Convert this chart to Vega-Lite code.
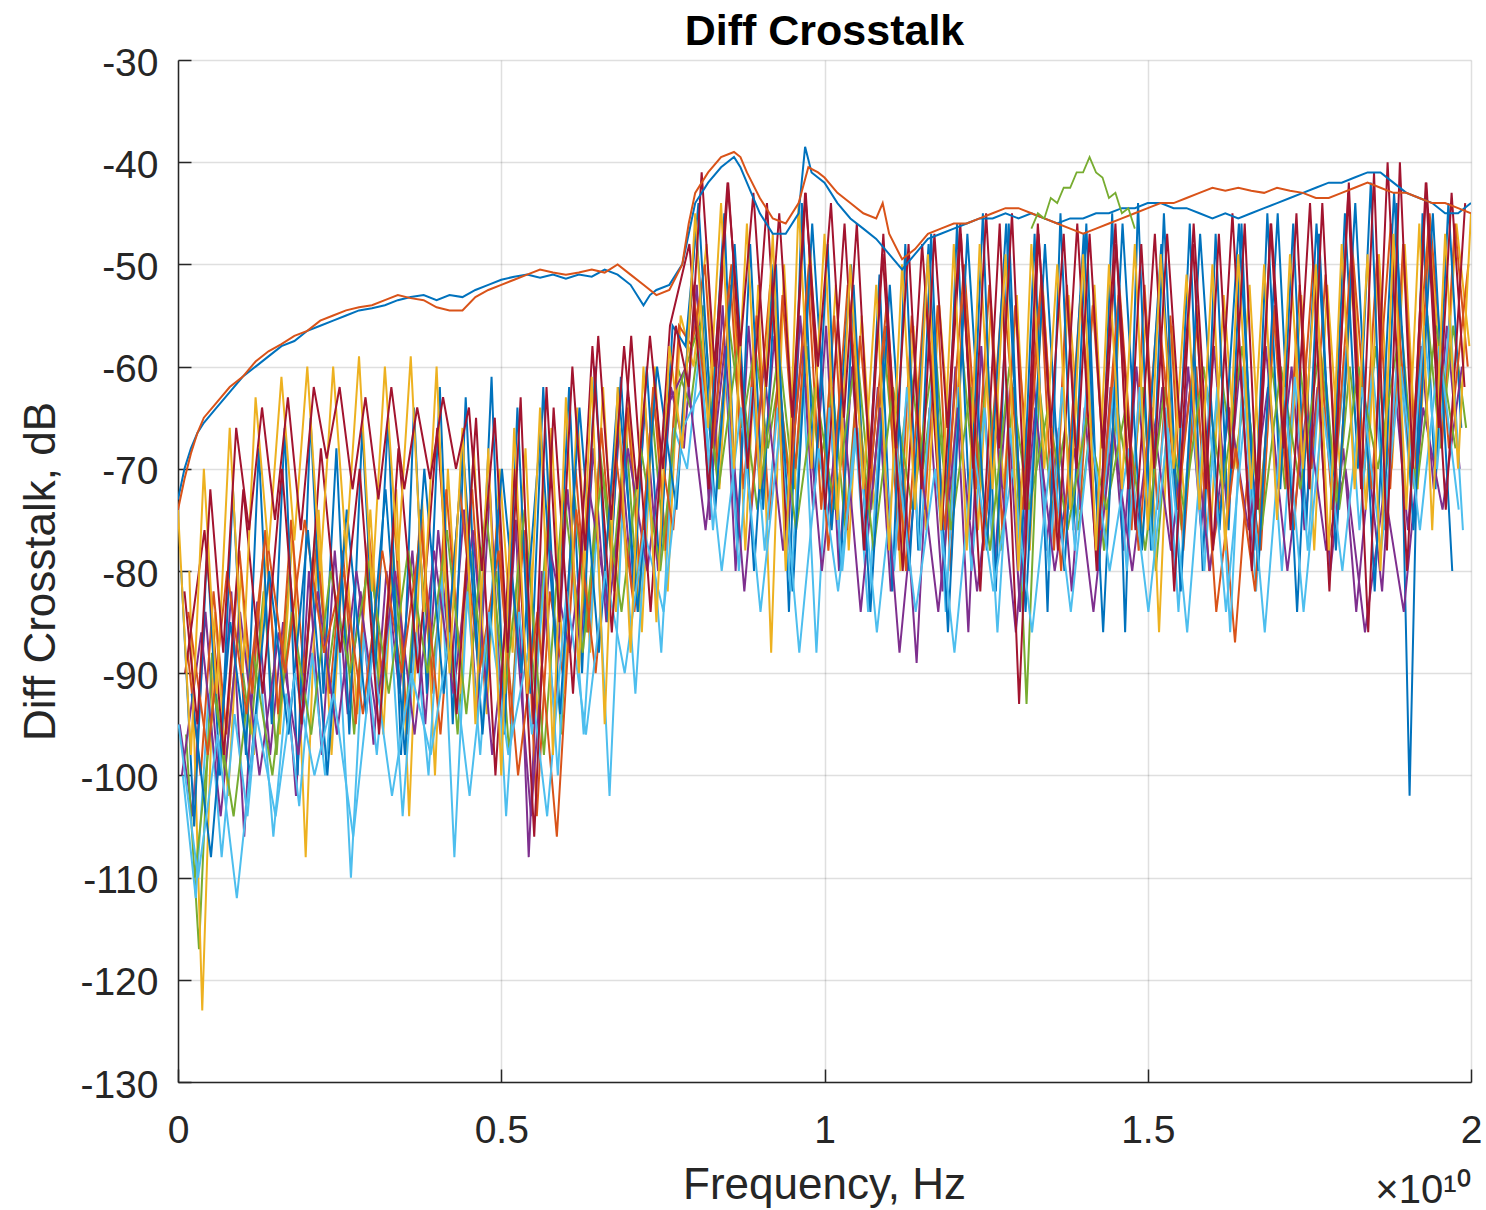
{
"$schema": "https://vega.github.io/schema/vega-lite/v6.json",
"autosize": {"type": "none"},
"padding": {"left": 178, "top": 60, "right": 15, "bottom": 128},
"width": 1293,
"height": 1022,
"background": "white",
"config": {"font": "Liberation Sans", "view": {"stroke": null}},
"title": {"text": "Diff Crosstalk", "fontSize": 43, "fontWeight": "bold", "color": "#000000", "anchor": "middle", "frame": "group", "baseline": "alphabetic", "offset": 17, "dy": 61},
"datasets": {
"noise": [
{"s":"s01","f":0.0025,"d":-95},{"s":"s01","f":0.0225,"d":-104},{"s":"s01","f":0.0425,"d":-84},{"s":"s01","f":0.0625,"d":-100},{"s":"s01","f":0.0825,"d":-82},{"s":"s01","f":0.1025,"d":-106},{"s":"s01","f":0.1225,"d":-83},{"s":"s01","f":0.1425,"d":-98},{"s":"s01","f":0.1625,"d":-85},{"s":"s01","f":0.1825,"d":-102},
{"s":"s01","f":0.2025,"d":-80},{"s":"s01","f":0.2225,"d":-98},{"s":"s01","f":0.2425,"d":-78},{"s":"s01","f":0.2625,"d":-94},{"s":"s01","f":0.2825,"d":-82},{"s":"s01","f":0.3025,"d":-97},{"s":"s01","f":0.3225,"d":-80},{"s":"s01","f":0.3425,"d":-92},{"s":"s01","f":0.3625,"d":-78},{"s":"s01","f":0.3825,"d":-95},
{"s":"s01","f":0.4025,"d":-76},{"s":"s01","f":0.4225,"d":-90},{"s":"s01","f":0.4425,"d":-74},{"s":"s01","f":0.4625,"d":-94},{"s":"s01","f":0.4825,"d":-72},{"s":"s01","f":0.5025,"d":-96},{"s":"s01","f":0.5225,"d":-75},{"s":"s01","f":0.5425,"d":-108},{"s":"s01","f":0.5625,"d":-80},{"s":"s01","f":0.5825,"d":-94},
{"s":"s01","f":0.6025,"d":-72},{"s":"s01","f":0.6225,"d":-88},{"s":"s01","f":0.6425,"d":-68},{"s":"s01","f":0.6625,"d":-85},{"s":"s01","f":0.6825,"d":-66},{"s":"s01","f":0.7025,"d":-82},{"s":"s01","f":0.7225,"d":-64},{"s":"s01","f":0.7425,"d":-80},{"s":"s01","f":0.7625,"d":-62},{"s":"s01","f":0.7825,"d":-68},
{"s":"s01","f":0.8025,"d":-52},{"s":"s01","f":0.8225,"d":-75},{"s":"s01","f":0.8425,"d":-54},{"s":"s01","f":0.8625,"d":-80},{"s":"s01","f":0.8825,"d":-56},{"s":"s01","f":0.9025,"d":-73},{"s":"s01","f":0.9225,"d":-57},{"s":"s01","f":0.9425,"d":-78},{"s":"s01","f":0.9625,"d":-55},{"s":"s01","f":0.9825,"d":-74},
{"s":"s01","f":1.0025,"d":-56},{"s":"s01","f":1.0225,"d":-80},{"s":"s01","f":1.0425,"d":-60},{"s":"s01","f":1.0625,"d":-78},{"s":"s01","f":1.0825,"d":-62},{"s":"s01","f":1.1025,"d":-82},{"s":"s01","f":1.1225,"d":-70},{"s":"s01","f":1.1425,"d":-89},{"s":"s01","f":1.1625,"d":-64},{"s":"s01","f":1.1825,"d":-82},
{"s":"s01","f":1.2025,"d":-60},{"s":"s01","f":1.2225,"d":-86},{"s":"s01","f":1.2425,"d":-58},{"s":"s01","f":1.2625,"d":-80},{"s":"s01","f":1.2825,"d":-62},{"s":"s01","f":1.3025,"d":-84},{"s":"s01","f":1.3225,"d":-60},{"s":"s01","f":1.3425,"d":-78},{"s":"s01","f":1.3625,"d":-66},{"s":"s01","f":1.3825,"d":-82},
{"s":"s01","f":1.4025,"d":-64},{"s":"s01","f":1.4225,"d":-80},{"s":"s01","f":1.4425,"d":-62},{"s":"s01","f":1.4625,"d":-78},{"s":"s01","f":1.4825,"d":-60},{"s":"s01","f":1.5025,"d":-76},{"s":"s01","f":1.5225,"d":-62},{"s":"s01","f":1.5425,"d":-80},{"s":"s01","f":1.5625,"d":-60},{"s":"s01","f":1.5825,"d":-76},
{"s":"s01","f":1.6025,"d":-58},{"s":"s01","f":1.6225,"d":-74},{"s":"s01","f":1.6425,"d":-60},{"s":"s01","f":1.6625,"d":-78},{"s":"s01","f":1.6825,"d":-58},{"s":"s01","f":1.7025,"d":-72},{"s":"s01","f":1.7225,"d":-60},{"s":"s01","f":1.7425,"d":-76},{"s":"s01","f":1.7625,"d":-62},{"s":"s01","f":1.7825,"d":-80},
{"s":"s01","f":1.8025,"d":-68},{"s":"s01","f":1.8225,"d":-84},{"s":"s01","f":1.8425,"d":-70},{"s":"s01","f":1.8625,"d":-82},{"s":"s01","f":1.8825,"d":-62},{"s":"s01","f":1.9025,"d":-76},{"s":"s01","f":1.9225,"d":-58},{"s":"s01","f":1.9425,"d":-72},{"s":"s01","f":1.9625,"d":-56},{"s":"s01","f":1.9825,"d":-70},

{"s":"s02","f":0.0125,"d":-96},{"s":"s02","f":0.0325,"d":-117},{"s":"s02","f":0.0525,"d":-88},{"s":"s02","f":0.0725,"d":-100},{"s":"s02","f":0.0925,"d":-86},{"s":"s02","f":0.1125,"d":-96},{"s":"s02","f":0.1325,"d":-82},{"s":"s02","f":0.1525,"d":-98},{"s":"s02","f":0.1725,"d":-80},{"s":"s02","f":0.1925,"d":-94},
{"s":"s02","f":0.2125,"d":-76},{"s":"s02","f":0.2325,"d":-90},{"s":"s02","f":0.2525,"d":-80},{"s":"s02","f":0.2725,"d":-96},{"s":"s02","f":0.2925,"d":-79},{"s":"s02","f":0.3125,"d":-92},{"s":"s02","f":0.3325,"d":-78},{"s":"s02","f":0.3525,"d":-94},{"s":"s02","f":0.3725,"d":-77},{"s":"s02","f":0.3925,"d":-90},
{"s":"s02","f":0.4125,"d":-80},{"s":"s02","f":0.4325,"d":-96},{"s":"s02","f":0.4525,"d":-78},{"s":"s02","f":0.4725,"d":-90},{"s":"s02","f":0.4925,"d":-80},{"s":"s02","f":0.5125,"d":-98},{"s":"s02","f":0.5325,"d":-76},{"s":"s02","f":0.5525,"d":-92},{"s":"s02","f":0.5725,"d":-74},{"s":"s02","f":0.5925,"d":-96},
{"s":"s02","f":0.6125,"d":-72},{"s":"s02","f":0.6325,"d":-86},{"s":"s02","f":0.6525,"d":-68},{"s":"s02","f":0.6725,"d":-80},{"s":"s02","f":0.6925,"d":-66},{"s":"s02","f":0.7125,"d":-84},{"s":"s02","f":0.7325,"d":-64},{"s":"s02","f":0.7525,"d":-78},{"s":"s02","f":0.7725,"d":-60},{"s":"s02","f":0.7925,"d":-64},
{"s":"s02","f":0.8125,"d":-54},{"s":"s02","f":0.8325,"d":-70},{"s":"s02","f":0.8525,"d":-56},{"s":"s02","f":0.8725,"d":-66},{"s":"s02","f":0.8925,"d":-58},{"s":"s02","f":0.9125,"d":-68},{"s":"s02","f":0.9325,"d":-60},{"s":"s02","f":0.9525,"d":-72},{"s":"s02","f":0.9725,"d":-58},{"s":"s02","f":0.9925,"d":-70},
{"s":"s02","f":1.0125,"d":-62},{"s":"s02","f":1.0325,"d":-76},{"s":"s02","f":1.0525,"d":-60},{"s":"s02","f":1.0725,"d":-74},{"s":"s02","f":1.0925,"d":-58},{"s":"s02","f":1.1125,"d":-72},{"s":"s02","f":1.1325,"d":-60},{"s":"s02","f":1.1525,"d":-70},{"s":"s02","f":1.1725,"d":-59},{"s":"s02","f":1.1925,"d":-76},
{"s":"s02","f":1.2125,"d":-58},{"s":"s02","f":1.2325,"d":-72},{"s":"s02","f":1.2525,"d":-60},{"s":"s02","f":1.2725,"d":-78},{"s":"s02","f":1.2925,"d":-62},{"s":"s02","f":1.3125,"d":-93},{"s":"s02","f":1.3325,"d":-62},{"s":"s02","f":1.3525,"d":-74},{"s":"s02","f":1.3725,"d":-66},{"s":"s02","f":1.3925,"d":-76},
{"s":"s02","f":1.4125,"d":-65},{"s":"s02","f":1.4325,"d":-78},{"s":"s02","f":1.4525,"d":-64},{"s":"s02","f":1.4725,"d":-72},{"s":"s02","f":1.4925,"d":-62},{"s":"s02","f":1.5125,"d":-80},{"s":"s02","f":1.5325,"d":-64},{"s":"s02","f":1.5525,"d":-76},{"s":"s02","f":1.5725,"d":-62},{"s":"s02","f":1.5925,"d":-72},
{"s":"s02","f":1.6125,"d":-60},{"s":"s02","f":1.6325,"d":-70},{"s":"s02","f":1.6525,"d":-62},{"s":"s02","f":1.6725,"d":-74},{"s":"s02","f":1.6925,"d":-60},{"s":"s02","f":1.7125,"d":-72},{"s":"s02","f":1.7325,"d":-58},{"s":"s02","f":1.7525,"d":-70},{"s":"s02","f":1.7725,"d":-59},{"s":"s02","f":1.7925,"d":-74},
{"s":"s02","f":1.8125,"d":-60},{"s":"s02","f":1.8325,"d":-72},{"s":"s02","f":1.8525,"d":-58},{"s":"s02","f":1.8725,"d":-70},{"s":"s02","f":1.8925,"d":-56},{"s":"s02","f":1.9125,"d":-72},{"s":"s02","f":1.9325,"d":-55},{"s":"s02","f":1.9525,"d":-68},{"s":"s02","f":1.9725,"d":-56},{"s":"s02","f":1.9925,"d":-66},

{"s":"s03","f":0.0175,"d":-80},{"s":"s03","f":0.0375,"d":-123},{"s":"s03","f":0.0575,"d":-84},{"s":"s03","f":0.0775,"d":-102},{"s":"s03","f":0.0975,"d":-80},{"s":"s03","f":0.1175,"d":-98},{"s":"s03","f":0.1375,"d":-78},{"s":"s03","f":0.1575,"d":-96},{"s":"s03","f":0.1775,"d":-76},{"s":"s03","f":0.1975,"d":-108},
{"s":"s03","f":0.2175,"d":-74},{"s":"s03","f":0.2375,"d":-98},{"s":"s03","f":0.2575,"d":-76},{"s":"s03","f":0.2775,"d":-94},{"s":"s03","f":0.2975,"d":-74},{"s":"s03","f":0.3175,"d":-96},{"s":"s03","f":0.3375,"d":-72},{"s":"s03","f":0.3575,"d":-104},{"s":"s03","f":0.3775,"d":-73},{"s":"s03","f":0.3975,"d":-100},
{"s":"s03","f":0.4175,"d":-70},{"s":"s03","f":0.4375,"d":-92},{"s":"s03","f":0.4575,"d":-68},{"s":"s03","f":0.4775,"d":-94},{"s":"s03","f":0.4975,"d":-70},{"s":"s03","f":0.5175,"d":-88},{"s":"s03","f":0.5375,"d":-68},{"s":"s03","f":0.5575,"d":-96},{"s":"s03","f":0.5775,"d":-66},{"s":"s03","f":0.5975,"d":-92},
{"s":"s03","f":0.6175,"d":-64},{"s":"s03","f":0.6375,"d":-88},{"s":"s03","f":0.6575,"d":-62},{"s":"s03","f":0.6775,"d":-84},{"s":"s03","f":0.6975,"d":-63},{"s":"s03","f":0.7175,"d":-86},{"s":"s03","f":0.7375,"d":-60},{"s":"s03","f":0.7575,"d":-82},{"s":"s03","f":0.7775,"d":-55},{"s":"s03","f":0.7975,"d":-60},
{"s":"s03","f":0.8175,"d":-48},{"s":"s03","f":0.8375,"d":-72},{"s":"s03","f":0.8575,"d":-50},{"s":"s03","f":0.8775,"d":-78},{"s":"s03","f":0.8975,"d":-52},{"s":"s03","f":0.9175,"d":-88},{"s":"s03","f":0.9375,"d":-50},{"s":"s03","f":0.9575,"d":-74},{"s":"s03","f":0.9775,"d":-48},{"s":"s03","f":0.9975,"d":-72},
{"s":"s03","f":1.0175,"d":-52},{"s":"s03","f":1.0375,"d":-78},{"s":"s03","f":1.0575,"d":-55},{"s":"s03","f":1.0775,"d":-74},{"s":"s03","f":1.0975,"d":-57},{"s":"s03","f":1.1175,"d":-80},{"s":"s03","f":1.1375,"d":-56},{"s":"s03","f":1.1575,"d":-76},{"s":"s03","f":1.1775,"d":-54},{"s":"s03","f":1.1975,"d":-70},
{"s":"s03","f":1.2175,"d":-52},{"s":"s03","f":1.2375,"d":-76},{"s":"s03","f":1.2575,"d":-54},{"s":"s03","f":1.2775,"d":-72},{"s":"s03","f":1.2975,"d":-53},{"s":"s03","f":1.3175,"d":-78},{"s":"s03","f":1.3375,"d":-52},{"s":"s03","f":1.3575,"d":-74},{"s":"s03","f":1.3775,"d":-53},{"s":"s03","f":1.3975,"d":-70},
{"s":"s03","f":1.4175,"d":-52},{"s":"s03","f":1.4375,"d":-76},{"s":"s03","f":1.4575,"d":-54},{"s":"s03","f":1.4775,"d":-72},{"s":"s03","f":1.4975,"d":-55},{"s":"s03","f":1.5175,"d":-86},{"s":"s03","f":1.5375,"d":-56},{"s":"s03","f":1.5575,"d":-74},{"s":"s03","f":1.5775,"d":-54},{"s":"s03","f":1.5975,"d":-76},
{"s":"s03","f":1.6175,"d":-53},{"s":"s03","f":1.6375,"d":-70},{"s":"s03","f":1.6575,"d":-52},{"s":"s03","f":1.6775,"d":-74},{"s":"s03","f":1.6975,"d":-54},{"s":"s03","f":1.7175,"d":-72},{"s":"s03","f":1.7375,"d":-53},{"s":"s03","f":1.7575,"d":-78},{"s":"s03","f":1.7775,"d":-52},{"s":"s03","f":1.7975,"d":-70},
{"s":"s03","f":1.8175,"d":-50},{"s":"s03","f":1.8375,"d":-74},{"s":"s03","f":1.8575,"d":-49},{"s":"s03","f":1.8775,"d":-70},{"s":"s03","f":1.8975,"d":-48},{"s":"s03","f":1.9175,"d":-72},{"s":"s03","f":1.9375,"d":-47},{"s":"s03","f":1.9575,"d":-66},{"s":"s03","f":1.9775,"d":-46},{"s":"s03","f":1.9975,"d":-58},

{"s":"s04","f":0.015,"d":-88},{"s":"s04","f":0.035,"d":-100},{"s":"s04","f":0.055,"d":-82},{"s":"s04","f":0.075,"d":-96},{"s":"s04","f":0.095,"d":-78},{"s":"s04","f":0.115,"d":-92},{"s":"s04","f":0.135,"d":-76},{"s":"s04","f":0.155,"d":-94},{"s":"s04","f":0.175,"d":-75},{"s":"s04","f":0.195,"d":-90},
{"s":"s04","f":0.215,"d":-77},{"s":"s04","f":0.235,"d":-92},{"s":"s04","f":0.255,"d":-78},{"s":"s04","f":0.275,"d":-95},{"s":"s04","f":0.295,"d":-76},{"s":"s04","f":0.315,"d":-90},{"s":"s04","f":0.335,"d":-75},{"s":"s04","f":0.355,"d":-96},{"s":"s04","f":0.375,"d":-74},{"s":"s04","f":0.395,"d":-92},
{"s":"s04","f":0.415,"d":-72},{"s":"s04","f":0.435,"d":-88},{"s":"s04","f":0.455,"d":-72},{"s":"s04","f":0.475,"d":-92},{"s":"s04","f":0.495,"d":-74},{"s":"s04","f":0.515,"d":-95},{"s":"s04","f":0.535,"d":-76},{"s":"s04","f":0.555,"d":-104},{"s":"s04","f":0.575,"d":-82},{"s":"s04","f":0.595,"d":-90},
{"s":"s04","f":0.615,"d":-70},{"s":"s04","f":0.635,"d":-86},{"s":"s04","f":0.655,"d":-66},{"s":"s04","f":0.675,"d":-82},{"s":"s04","f":0.695,"d":-64},{"s":"s04","f":0.715,"d":-80},{"s":"s04","f":0.735,"d":-62},{"s":"s04","f":0.755,"d":-78},{"s":"s04","f":0.775,"d":-56},{"s":"s04","f":0.795,"d":-58},
{"s":"s04","f":0.815,"d":-50},{"s":"s04","f":0.835,"d":-70},{"s":"s04","f":0.855,"d":-52},{"s":"s04","f":0.875,"d":-72},{"s":"s04","f":0.895,"d":-55},{"s":"s04","f":0.915,"d":-75},{"s":"s04","f":0.935,"d":-53},{"s":"s04","f":0.955,"d":-70},{"s":"s04","f":0.975,"d":-52},{"s":"s04","f":0.995,"d":-74},
{"s":"s04","f":1.015,"d":-55},{"s":"s04","f":1.035,"d":-76},{"s":"s04","f":1.055,"d":-57},{"s":"s04","f":1.075,"d":-72},{"s":"s04","f":1.095,"d":-56},{"s":"s04","f":1.115,"d":-78},{"s":"s04","f":1.135,"d":-55},{"s":"s04","f":1.155,"d":-74},{"s":"s04","f":1.175,"d":-54},{"s":"s04","f":1.195,"d":-80},
{"s":"s04","f":1.215,"d":-53},{"s":"s04","f":1.235,"d":-72},{"s":"s04","f":1.255,"d":-52},{"s":"s04","f":1.275,"d":-76},{"s":"s04","f":1.295,"d":-54},{"s":"s04","f":1.315,"d":-70},{"s":"s04","f":1.335,"d":-53},{"s":"s04","f":1.355,"d":-78},{"s":"s04","f":1.375,"d":-52},{"s":"s04","f":1.395,"d":-74},
{"s":"s04","f":1.415,"d":-54},{"s":"s04","f":1.435,"d":-72},{"s":"s04","f":1.455,"d":-53},{"s":"s04","f":1.475,"d":-76},{"s":"s04","f":1.495,"d":-52},{"s":"s04","f":1.515,"d":-74},{"s":"s04","f":1.535,"d":-55},{"s":"s04","f":1.555,"d":-78},{"s":"s04","f":1.575,"d":-60},{"s":"s04","f":1.595,"d":-80},
{"s":"s04","f":1.615,"d":-72},{"s":"s04","f":1.635,"d":-87},{"s":"s04","f":1.655,"d":-70},{"s":"s04","f":1.675,"d":-78},{"s":"s04","f":1.695,"d":-55},{"s":"s04","f":1.715,"d":-72},{"s":"s04","f":1.735,"d":-52},{"s":"s04","f":1.755,"d":-70},{"s":"s04","f":1.775,"d":-51},{"s":"s04","f":1.795,"d":-74},
{"s":"s04","f":1.815,"d":-50},{"s":"s04","f":1.835,"d":-70},{"s":"s04","f":1.855,"d":-49},{"s":"s04","f":1.875,"d":-72},{"s":"s04","f":1.895,"d":-48},{"s":"s04","f":1.915,"d":-70},{"s":"s04","f":1.935,"d":-47},{"s":"s04","f":1.955,"d":-68},{"s":"s04","f":1.975,"d":-46},{"s":"s04","f":1.995,"d":-60},

{"s":"s05","f":0.005,"d":-80},{"s":"s05","f":0.025,"d":-105},{"s":"s05","f":0.045,"d":-78},{"s":"s05","f":0.065,"d":-100},{"s":"s05","f":0.085,"d":-72},{"s":"s05","f":0.105,"d":-98},{"s":"s05","f":0.125,"d":-68},{"s":"s05","f":0.145,"d":-95},{"s":"s05","f":0.165,"d":-66},{"s":"s05","f":0.185,"d":-100},
{"s":"s05","f":0.205,"d":-65},{"s":"s05","f":0.225,"d":-92},{"s":"s05","f":0.245,"d":-68},{"s":"s05","f":0.265,"d":-96},{"s":"s05","f":0.285,"d":-66},{"s":"s05","f":0.305,"d":-90},{"s":"s05","f":0.325,"d":-65},{"s":"s05","f":0.345,"d":-98},{"s":"s05","f":0.365,"d":-64},{"s":"s05","f":0.385,"d":-92},
{"s":"s05","f":0.405,"d":-62},{"s":"s05","f":0.425,"d":-95},{"s":"s05","f":0.445,"d":-63},{"s":"s05","f":0.465,"d":-90},{"s":"s05","f":0.485,"d":-61},{"s":"s05","f":0.505,"d":-96},{"s":"s05","f":0.525,"d":-64},{"s":"s05","f":0.545,"d":-92},{"s":"s05","f":0.565,"d":-62},{"s":"s05","f":0.585,"d":-88},
{"s":"s05","f":0.605,"d":-62},{"s":"s05","f":0.625,"d":-90},{"s":"s05","f":0.645,"d":-60},{"s":"s05","f":0.665,"d":-85},{"s":"s05","f":0.685,"d":-61},{"s":"s05","f":0.705,"d":-82},{"s":"s05","f":0.725,"d":-60},{"s":"s05","f":0.745,"d":-80},{"s":"s05","f":0.765,"d":-56},{"s":"s05","f":0.785,"d":-58},
{"s":"s05","f":0.805,"d":-44},{"s":"s05","f":0.825,"d":-66},{"s":"s05","f":0.845,"d":-45},{"s":"s05","f":0.865,"d":-78},{"s":"s05","f":0.885,"d":-48},{"s":"s05","f":0.905,"d":-74},{"s":"s05","f":0.925,"d":-50},{"s":"s05","f":0.945,"d":-84},{"s":"s05","f":0.965,"d":-44},{"s":"s05","f":0.985,"d":-72},
{"s":"s05","f":1.005,"d":-48},{"s":"s05","f":1.025,"d":-80},{"s":"s05","f":1.045,"d":-52},{"s":"s05","f":1.065,"d":-76},{"s":"s05","f":1.085,"d":-51},{"s":"s05","f":1.105,"d":-82},{"s":"s05","f":1.125,"d":-48},{"s":"s05","f":1.145,"d":-78},{"s":"s05","f":1.165,"d":-47},{"s":"s05","f":1.185,"d":-80},
{"s":"s05","f":1.205,"d":-46},{"s":"s05","f":1.225,"d":-75},{"s":"s05","f":1.245,"d":-45},{"s":"s05","f":1.265,"d":-82},{"s":"s05","f":1.285,"d":-46},{"s":"s05","f":1.305,"d":-78},{"s":"s05","f":1.325,"d":-47},{"s":"s05","f":1.345,"d":-84},{"s":"s05","f":1.365,"d":-45},{"s":"s05","f":1.385,"d":-76},
{"s":"s05","f":1.405,"d":-46},{"s":"s05","f":1.425,"d":-80},{"s":"s05","f":1.445,"d":-45},{"s":"s05","f":1.465,"d":-86},{"s":"s05","f":1.485,"d":-44},{"s":"s05","f":1.505,"d":-78},{"s":"s05","f":1.525,"d":-45},{"s":"s05","f":1.545,"d":-74},{"s":"s05","f":1.565,"d":-46},{"s":"s05","f":1.585,"d":-80},
{"s":"s05","f":1.605,"d":-47},{"s":"s05","f":1.625,"d":-76},{"s":"s05","f":1.645,"d":-46},{"s":"s05","f":1.665,"d":-78},{"s":"s05","f":1.685,"d":-45},{"s":"s05","f":1.705,"d":-72},{"s":"s05","f":1.725,"d":-46},{"s":"s05","f":1.745,"d":-76},{"s":"s05","f":1.765,"d":-47},{"s":"s05","f":1.785,"d":-74},
{"s":"s05","f":1.805,"d":-45},{"s":"s05","f":1.825,"d":-70},{"s":"s05","f":1.845,"d":-42},{"s":"s05","f":1.865,"d":-76},{"s":"s05","f":1.885,"d":-44},{"s":"s05","f":1.905,"d":-102},{"s":"s05","f":1.925,"d":-45},{"s":"s05","f":1.945,"d":-72},{"s":"s05","f":1.965,"d":-44},{"s":"s05","f":1.985,"d":-66},

{"s":"s06","f":0.0075,"d":-100},{"s":"s06","f":0.0275,"d":-112},{"s":"s06","f":0.0475,"d":-92},{"s":"s06","f":0.0675,"d":-108},{"s":"s06","f":0.0875,"d":-94},{"s":"s06","f":0.1075,"d":-104},{"s":"s06","f":0.1275,"d":-90},{"s":"s06","f":0.1475,"d":-106},{"s":"s06","f":0.1675,"d":-92},{"s":"s06","f":0.1875,"d":-103},
{"s":"s06","f":0.2075,"d":-88},{"s":"s06","f":0.2275,"d":-100},{"s":"s06","f":0.2475,"d":-85},{"s":"s06","f":0.2675,"d":-110},{"s":"s06","f":0.2875,"d":-86},{"s":"s06","f":0.3075,"d":-98},{"s":"s06","f":0.3275,"d":-84},{"s":"s06","f":0.3475,"d":-104},{"s":"s06","f":0.3675,"d":-86},{"s":"s06","f":0.3875,"d":-100},
{"s":"s06","f":0.4075,"d":-80},{"s":"s06","f":0.4275,"d":-108},{"s":"s06","f":0.4475,"d":-82},{"s":"s06","f":0.4675,"d":-98},{"s":"s06","f":0.4875,"d":-80},{"s":"s06","f":0.5075,"d":-104},{"s":"s06","f":0.5275,"d":-84},{"s":"s06","f":0.5475,"d":-96},{"s":"s06","f":0.5675,"d":-80},{"s":"s06","f":0.5875,"d":-100},
{"s":"s06","f":0.6075,"d":-78},{"s":"s06","f":0.6275,"d":-96},{"s":"s06","f":0.6475,"d":-76},{"s":"s06","f":0.6675,"d":-102},{"s":"s06","f":0.6875,"d":-74},{"s":"s06","f":0.7075,"d":-92},{"s":"s06","f":0.7275,"d":-72},{"s":"s06","f":0.7475,"d":-88},{"s":"s06","f":0.7675,"d":-66},{"s":"s06","f":0.7875,"d":-70},
{"s":"s06","f":0.8075,"d":-58},{"s":"s06","f":0.8275,"d":-76},{"s":"s06","f":0.8475,"d":-60},{"s":"s06","f":0.8675,"d":-80},{"s":"s06","f":0.8875,"d":-62},{"s":"s06","f":0.9075,"d":-78},{"s":"s06","f":0.9275,"d":-64},{"s":"s06","f":0.9475,"d":-82},{"s":"s06","f":0.9675,"d":-62},{"s":"s06","f":0.9875,"d":-88},
{"s":"s06","f":1.0075,"d":-64},{"s":"s06","f":1.0275,"d":-80},{"s":"s06","f":1.0475,"d":-66},{"s":"s06","f":1.0675,"d":-84},{"s":"s06","f":1.0875,"d":-64},{"s":"s06","f":1.1075,"d":-80},{"s":"s06","f":1.1275,"d":-62},{"s":"s06","f":1.1475,"d":-78},{"s":"s06","f":1.1675,"d":-60},{"s":"s06","f":1.1875,"d":-84},
{"s":"s06","f":1.2075,"d":-62},{"s":"s06","f":1.2275,"d":-80},{"s":"s06","f":1.2475,"d":-64},{"s":"s06","f":1.2675,"d":-86},{"s":"s06","f":1.2875,"d":-66},{"s":"s06","f":1.3075,"d":-82},{"s":"s06","f":1.3275,"d":-64},{"s":"s06","f":1.3475,"d":-80},{"s":"s06","f":1.3675,"d":-62},{"s":"s06","f":1.3875,"d":-78},
{"s":"s06","f":1.4075,"d":-60},{"s":"s06","f":1.4275,"d":-76},{"s":"s06","f":1.4475,"d":-62},{"s":"s06","f":1.4675,"d":-80},{"s":"s06","f":1.4875,"d":-62},{"s":"s06","f":1.5075,"d":-78},{"s":"s06","f":1.5275,"d":-64},{"s":"s06","f":1.5475,"d":-84},{"s":"s06","f":1.5675,"d":-63},{"s":"s06","f":1.5875,"d":-80},
{"s":"s06","f":1.6075,"d":-62},{"s":"s06","f":1.6275,"d":-86},{"s":"s06","f":1.6475,"d":-60},{"s":"s06","f":1.6675,"d":-82},{"s":"s06","f":1.6875,"d":-62},{"s":"s06","f":1.7075,"d":-80},{"s":"s06","f":1.7275,"d":-61},{"s":"s06","f":1.7475,"d":-78},{"s":"s06","f":1.7675,"d":-60},{"s":"s06","f":1.7875,"d":-72},
{"s":"s06","f":1.8075,"d":-58},{"s":"s06","f":1.8275,"d":-76},{"s":"s06","f":1.8475,"d":-60},{"s":"s06","f":1.8675,"d":-74},{"s":"s06","f":1.8875,"d":-58},{"s":"s06","f":1.9075,"d":-72},{"s":"s06","f":1.9275,"d":-56},{"s":"s06","f":1.9475,"d":-70},{"s":"s06","f":1.9675,"d":-55},{"s":"s06","f":1.9875,"d":-76},

{"s":"s07","f":0.006,"d":-100},{"s":"s07","f":0.036,"d":-86},{"s":"s07","f":0.066,"d":-104},{"s":"s07","f":0.096,"d":-84},{"s":"s07","f":0.126,"d":-100},{"s":"s07","f":0.156,"d":-86},{"s":"s07","f":0.186,"d":-98},{"s":"s07","f":0.216,"d":-82},{"s":"s07","f":0.246,"d":-96},{"s":"s07","f":0.276,"d":-80},
{"s":"s07","f":0.306,"d":-94},{"s":"s07","f":0.336,"d":-80},{"s":"s07","f":0.366,"d":-96},{"s":"s07","f":0.396,"d":-78},{"s":"s07","f":0.426,"d":-92},{"s":"s07","f":0.456,"d":-76},{"s":"s07","f":0.486,"d":-98},{"s":"s07","f":0.516,"d":-80},{"s":"s07","f":0.546,"d":-104},{"s":"s07","f":0.576,"d":-78},
{"s":"s07","f":0.606,"d":-88},{"s":"s07","f":0.636,"d":-72},{"s":"s07","f":0.666,"d":-84},{"s":"s07","f":0.696,"d":-68},{"s":"s07","f":0.726,"d":-80},{"s":"s07","f":0.756,"d":-64},{"s":"s07","f":0.786,"d":-60},{"s":"s07","f":0.816,"d":-76},{"s":"s07","f":0.846,"d":-58},{"s":"s07","f":0.876,"d":-82},
{"s":"s07","f":0.906,"d":-60},{"s":"s07","f":0.936,"d":-78},{"s":"s07","f":0.966,"d":-58},{"s":"s07","f":0.996,"d":-80},{"s":"s07","f":1.026,"d":-62},{"s":"s07","f":1.056,"d":-84},{"s":"s07","f":1.086,"d":-64},{"s":"s07","f":1.116,"d":-88},{"s":"s07","f":1.146,"d":-68},{"s":"s07","f":1.176,"d":-84},
{"s":"s07","f":1.206,"d":-64},{"s":"s07","f":1.236,"d":-82},{"s":"s07","f":1.266,"d":-66},{"s":"s07","f":1.296,"d":-86},{"s":"s07","f":1.326,"d":-64},{"s":"s07","f":1.356,"d":-80},{"s":"s07","f":1.386,"d":-68},{"s":"s07","f":1.416,"d":-84},{"s":"s07","f":1.446,"d":-66},{"s":"s07","f":1.476,"d":-80},
{"s":"s07","f":1.506,"d":-64},{"s":"s07","f":1.536,"d":-78},{"s":"s07","f":1.566,"d":-62},{"s":"s07","f":1.596,"d":-80},{"s":"s07","f":1.626,"d":-64},{"s":"s07","f":1.656,"d":-76},{"s":"s07","f":1.686,"d":-62},{"s":"s07","f":1.716,"d":-80},{"s":"s07","f":1.746,"d":-64},{"s":"s07","f":1.776,"d":-78},
{"s":"s07","f":1.806,"d":-70},{"s":"s07","f":1.836,"d":-86},{"s":"s07","f":1.866,"d":-72},{"s":"s07","f":1.896,"d":-84},{"s":"s07","f":1.926,"d":-64},{"s":"s07","f":1.956,"d":-74},{"s":"s07","f":1.986,"d":-60},

{"s":"s08","f":0.026,"d":-110},{"s":"s08","f":0.056,"d":-92},{"s":"s08","f":0.086,"d":-104},{"s":"s08","f":0.116,"d":-88},{"s":"s08","f":0.146,"d":-100},{"s":"s08","f":0.176,"d":-84},{"s":"s08","f":0.206,"d":-96},{"s":"s08","f":0.236,"d":-80},{"s":"s08","f":0.266,"d":-90},{"s":"s08","f":0.296,"d":-79},
{"s":"s08","f":0.326,"d":-92},{"s":"s08","f":0.356,"d":-78},{"s":"s08","f":0.386,"d":-90},{"s":"s08","f":0.416,"d":-76},{"s":"s08","f":0.446,"d":-94},{"s":"s08","f":0.476,"d":-74},{"s":"s08","f":0.506,"d":-92},{"s":"s08","f":0.536,"d":-74},{"s":"s08","f":0.566,"d":-98},{"s":"s08","f":0.596,"d":-72},
{"s":"s08","f":0.626,"d":-88},{"s":"s08","f":0.656,"d":-70},{"s":"s08","f":0.686,"d":-84},{"s":"s08","f":0.716,"d":-68},{"s":"s08","f":0.746,"d":-80},{"s":"s08","f":0.776,"d":-62},{"s":"s08","f":0.806,"d":-56},{"s":"s08","f":0.836,"d":-72},{"s":"s08","f":0.866,"d":-58},{"s":"s08","f":0.896,"d":-74},
{"s":"s08","f":0.926,"d":-60},{"s":"s08","f":0.956,"d":-76},{"s":"s08","f":0.986,"d":-62},{"s":"s08","f":1.016,"d":-74},{"s":"s08","f":1.046,"d":-60},{"s":"s08","f":1.076,"d":-78},{"s":"s08","f":1.106,"d":-62},{"s":"s08","f":1.136,"d":-74},{"s":"s08","f":1.166,"d":-60},{"s":"s08","f":1.196,"d":-76},
{"s":"s08","f":1.226,"d":-62},{"s":"s08","f":1.256,"d":-78},{"s":"s08","f":1.286,"d":-60},{"s":"s08","f":1.316,"d":-74},{"s":"s08","f":1.346,"d":-64},{"s":"s08","f":1.376,"d":-76},{"s":"s08","f":1.406,"d":-65},{"s":"s08","f":1.436,"d":-74},{"s":"s08","f":1.466,"d":-64},{"s":"s08","f":1.496,"d":-78},
{"s":"s08","f":1.526,"d":-62},{"s":"s08","f":1.556,"d":-74},{"s":"s08","f":1.586,"d":-60},{"s":"s08","f":1.616,"d":-72},{"s":"s08","f":1.646,"d":-58},{"s":"s08","f":1.676,"d":-76},{"s":"s08","f":1.706,"d":-60},{"s":"s08","f":1.736,"d":-72},{"s":"s08","f":1.766,"d":-58},{"s":"s08","f":1.796,"d":-74},
{"s":"s08","f":1.826,"d":-60},{"s":"s08","f":1.856,"d":-70},{"s":"s08","f":1.886,"d":-58},{"s":"s08","f":1.916,"d":-72},{"s":"s08","f":1.946,"d":-56},{"s":"s08","f":1.976,"d":-68},

{"s":"s09","f":0.016,"d":-84},{"s":"s09","f":0.046,"d":-98},{"s":"s09","f":0.076,"d":-80},{"s":"s09","f":0.106,"d":-94},{"s":"s09","f":0.136,"d":-76},{"s":"s09","f":0.166,"d":-90},{"s":"s09","f":0.196,"d":-75},{"s":"s09","f":0.226,"d":-88},{"s":"s09","f":0.256,"d":-80},{"s":"s09","f":0.286,"d":-94},
{"s":"s09","f":0.316,"d":-78},{"s":"s09","f":0.346,"d":-90},{"s":"s09","f":0.376,"d":-76},{"s":"s09","f":0.406,"d":-96},{"s":"s09","f":0.436,"d":-72},{"s":"s09","f":0.466,"d":-90},{"s":"s09","f":0.496,"d":-78},{"s":"s09","f":0.526,"d":-100},{"s":"s09","f":0.556,"d":-84},{"s":"s09","f":0.586,"d":-106},
{"s":"s09","f":0.616,"d":-74},{"s":"s09","f":0.646,"d":-90},{"s":"s09","f":0.676,"d":-68},{"s":"s09","f":0.706,"d":-84},{"s":"s09","f":0.736,"d":-64},{"s":"s09","f":0.766,"d":-76},{"s":"s09","f":0.796,"d":-52},{"s":"s09","f":0.826,"d":-68},{"s":"s09","f":0.856,"d":-50},{"s":"s09","f":0.886,"d":-74},
{"s":"s09","f":0.916,"d":-52},{"s":"s09","f":0.946,"d":-72},{"s":"s09","f":0.976,"d":-50},{"s":"s09","f":1.006,"d":-78},{"s":"s09","f":1.036,"d":-52},{"s":"s09","f":1.066,"d":-74},{"s":"s09","f":1.096,"d":-54},{"s":"s09","f":1.126,"d":-80},{"s":"s09","f":1.156,"d":-52},{"s":"s09","f":1.186,"d":-76},
{"s":"s09","f":1.216,"d":-50},{"s":"s09","f":1.246,"d":-78},{"s":"s09","f":1.276,"d":-52},{"s":"s09","f":1.306,"d":-74},{"s":"s09","f":1.336,"d":-51},{"s":"s09","f":1.366,"d":-80},{"s":"s09","f":1.396,"d":-53},{"s":"s09","f":1.426,"d":-76},{"s":"s09","f":1.456,"d":-52},{"s":"s09","f":1.486,"d":-78},
{"s":"s09","f":1.516,"d":-54},{"s":"s09","f":1.546,"d":-74},{"s":"s09","f":1.576,"d":-56},{"s":"s09","f":1.606,"d":-84},{"s":"s09","f":1.636,"d":-68},{"s":"s09","f":1.666,"d":-82},{"s":"s09","f":1.696,"d":-54},{"s":"s09","f":1.726,"d":-76},{"s":"s09","f":1.756,"d":-50},{"s":"s09","f":1.786,"d":-74},
{"s":"s09","f":1.816,"d":-48},{"s":"s09","f":1.846,"d":-72},{"s":"s09","f":1.876,"d":-46},{"s":"s09","f":1.906,"d":-70},{"s":"s09","f":1.936,"d":-45},{"s":"s09","f":1.966,"d":-68},{"s":"s09","f":1.996,"d":-50},

{"s":"s10","f":0.021,"d":-92},{"s":"s10","f":0.051,"d":-108},{"s":"s10","f":0.081,"d":-85},{"s":"s10","f":0.111,"d":-100},{"s":"s10","f":0.141,"d":-80},{"s":"s10","f":0.171,"d":-96},{"s":"s10","f":0.201,"d":-76},{"s":"s10","f":0.231,"d":-100},{"s":"s10","f":0.261,"d":-74},{"s":"s10","f":0.291,"d":-94},
{"s":"s10","f":0.321,"d":-72},{"s":"s10","f":0.351,"d":-98},{"s":"s10","f":0.381,"d":-70},{"s":"s10","f":0.411,"d":-92},{"s":"s10","f":0.441,"d":-68},{"s":"s10","f":0.471,"d":-96},{"s":"s10","f":0.501,"d":-70},{"s":"s10","f":0.531,"d":-90},{"s":"s10","f":0.561,"d":-66},{"s":"s10","f":0.591,"d":-94},
{"s":"s10","f":0.621,"d":-64},{"s":"s10","f":0.651,"d":-88},{"s":"s10","f":0.681,"d":-62},{"s":"s10","f":0.711,"d":-84},{"s":"s10","f":0.741,"d":-60},{"s":"s10","f":0.771,"d":-74},{"s":"s10","f":0.801,"d":-46},{"s":"s10","f":0.831,"d":-74},{"s":"s10","f":0.861,"d":-48},{"s":"s10","f":0.891,"d":-80},
{"s":"s10","f":0.921,"d":-50},{"s":"s10","f":0.951,"d":-82},{"s":"s10","f":0.981,"d":-46},{"s":"s10","f":1.011,"d":-76},{"s":"s10","f":1.041,"d":-50},{"s":"s10","f":1.071,"d":-84},{"s":"s10","f":1.101,"d":-52},{"s":"s10","f":1.131,"d":-80},{"s":"s10","f":1.161,"d":-48},{"s":"s10","f":1.191,"d":-86},
{"s":"s10","f":1.221,"d":-47},{"s":"s10","f":1.251,"d":-78},{"s":"s10","f":1.281,"d":-46},{"s":"s10","f":1.311,"d":-84},{"s":"s10","f":1.341,"d":-48},{"s":"s10","f":1.371,"d":-80},{"s":"s10","f":1.401,"d":-47},{"s":"s10","f":1.431,"d":-86},{"s":"s10","f":1.461,"d":-46},{"s":"s10","f":1.491,"d":-78},
{"s":"s10","f":1.521,"d":-48},{"s":"s10","f":1.551,"d":-82},{"s":"s10","f":1.581,"d":-47},{"s":"s10","f":1.611,"d":-76},{"s":"s10","f":1.641,"d":-46},{"s":"s10","f":1.671,"d":-80},{"s":"s10","f":1.701,"d":-45},{"s":"s10","f":1.731,"d":-84},{"s":"s10","f":1.761,"d":-46},{"s":"s10","f":1.791,"d":-78},
{"s":"s10","f":1.821,"d":-44},{"s":"s10","f":1.851,"d":-82},{"s":"s10","f":1.881,"d":-43},{"s":"s10","f":1.911,"d":-76},{"s":"s10","f":1.941,"d":-45},{"s":"s10","f":1.971,"d":-80},

{"s":"s11","f":0.001,"d":-95},{"s":"s11","f":0.031,"d":-110},{"s":"s11","f":0.061,"d":-96},{"s":"s11","f":0.091,"d":-112},{"s":"s11","f":0.121,"d":-94},{"s":"s11","f":0.151,"d":-104},{"s":"s11","f":0.181,"d":-90},{"s":"s11","f":0.211,"d":-100},{"s":"s11","f":0.241,"d":-92},{"s":"s11","f":0.271,"d":-106},
{"s":"s11","f":0.301,"d":-88},{"s":"s11","f":0.331,"d":-102},{"s":"s11","f":0.361,"d":-90},{"s":"s11","f":0.391,"d":-98},{"s":"s11","f":0.421,"d":-86},{"s":"s11","f":0.451,"d":-102},{"s":"s11","f":0.481,"d":-84},{"s":"s11","f":0.511,"d":-98},{"s":"s11","f":0.541,"d":-88},{"s":"s11","f":0.571,"d":-104},
{"s":"s11","f":0.601,"d":-82},{"s":"s11","f":0.631,"d":-96},{"s":"s11","f":0.661,"d":-80},{"s":"s11","f":0.691,"d":-90},{"s":"s11","f":0.721,"d":-76},{"s":"s11","f":0.751,"d":-84},{"s":"s11","f":0.781,"d":-66},{"s":"s11","f":0.811,"d":-62},{"s":"s11","f":0.841,"d":-80},{"s":"s11","f":0.871,"d":-64},
{"s":"s11","f":0.901,"d":-84},{"s":"s11","f":0.931,"d":-66},{"s":"s11","f":0.961,"d":-88},{"s":"s11","f":0.991,"d":-68},{"s":"s11","f":1.021,"d":-82},{"s":"s11","f":1.051,"d":-66},{"s":"s11","f":1.081,"d":-86},{"s":"s11","f":1.111,"d":-68},{"s":"s11","f":1.141,"d":-84},{"s":"s11","f":1.171,"d":-70},
{"s":"s11","f":1.201,"d":-88},{"s":"s11","f":1.231,"d":-68},{"s":"s11","f":1.261,"d":-82},{"s":"s11","f":1.291,"d":-70},{"s":"s11","f":1.321,"d":-86},{"s":"s11","f":1.351,"d":-68},{"s":"s11","f":1.381,"d":-84},{"s":"s11","f":1.411,"d":-66},{"s":"s11","f":1.441,"d":-80},{"s":"s11","f":1.471,"d":-68},
{"s":"s11","f":1.501,"d":-84},{"s":"s11","f":1.531,"d":-66},{"s":"s11","f":1.561,"d":-86},{"s":"s11","f":1.591,"d":-62},{"s":"s11","f":1.621,"d":-84},{"s":"s11","f":1.651,"d":-64},{"s":"s11","f":1.681,"d":-86},{"s":"s11","f":1.711,"d":-62},{"s":"s11","f":1.741,"d":-84},{"s":"s11","f":1.771,"d":-64},
{"s":"s11","f":1.801,"d":-80},{"s":"s11","f":1.831,"d":-62},{"s":"s11","f":1.861,"d":-78},{"s":"s11","f":1.891,"d":-60},{"s":"s11","f":1.921,"d":-76},{"s":"s11","f":1.951,"d":-58},{"s":"s11","f":1.981,"d":-74},

{"s":"s12","f":0.011,"d":-90},{"s":"s12","f":0.041,"d":-76},{"s":"s12","f":0.071,"d":-98},{"s":"s12","f":0.101,"d":-72},{"s":"s12","f":0.131,"d":-92},{"s":"s12","f":0.161,"d":-70},{"s":"s12","f":0.191,"d":-95},{"s":"s12","f":0.221,"d":-68},{"s":"s12","f":0.251,"d":-88},{"s":"s12","f":0.281,"d":-70},
{"s":"s12","f":0.311,"d":-96},{"s":"s12","f":0.341,"d":-68},{"s":"s12","f":0.371,"d":-90},{"s":"s12","f":0.401,"d":-66},{"s":"s12","f":0.431,"d":-94},{"s":"s12","f":0.461,"d":-65},{"s":"s12","f":0.491,"d":-100},{"s":"s12","f":0.521,"d":-70},{"s":"s12","f":0.551,"d":-106},{"s":"s12","f":0.581,"d":-64},
{"s":"s12","f":0.611,"d":-92},{"s":"s12","f":0.641,"d":-58},{"s":"s12","f":0.671,"d":-86},{"s":"s12","f":0.701,"d":-57},{"s":"s12","f":0.731,"d":-84},{"s":"s12","f":0.761,"d":-56},{"s":"s12","f":0.791,"d":-48},{"s":"s12","f":0.821,"d":-72},{"s":"s12","f":0.851,"d":-42},{"s":"s12","f":0.881,"d":-70},
{"s":"s12","f":0.911,"d":-44},{"s":"s12","f":0.941,"d":-76},{"s":"s12","f":0.971,"d":-43},{"s":"s12","f":1.001,"d":-74},{"s":"s12","f":1.031,"d":-46},{"s":"s12","f":1.061,"d":-78},{"s":"s12","f":1.091,"d":-47},{"s":"s12","f":1.121,"d":-80},{"s":"s12","f":1.151,"d":-48},{"s":"s12","f":1.181,"d":-76},
{"s":"s12","f":1.211,"d":-47},{"s":"s12","f":1.241,"d":-82},{"s":"s12","f":1.271,"d":-46},{"s":"s12","f":1.301,"d":-93},{"s":"s12","f":1.331,"d":-47},{"s":"s12","f":1.361,"d":-78},{"s":"s12","f":1.391,"d":-46},{"s":"s12","f":1.421,"d":-80},{"s":"s12","f":1.451,"d":-48},{"s":"s12","f":1.481,"d":-76},
{"s":"s12","f":1.511,"d":-47},{"s":"s12","f":1.541,"d":-82},{"s":"s12","f":1.571,"d":-46},{"s":"s12","f":1.601,"d":-78},{"s":"s12","f":1.631,"d":-45},{"s":"s12","f":1.661,"d":-80},{"s":"s12","f":1.691,"d":-46},{"s":"s12","f":1.721,"d":-76},{"s":"s12","f":1.751,"d":-44},{"s":"s12","f":1.781,"d":-82},
{"s":"s12","f":1.811,"d":-42},{"s":"s12","f":1.841,"d":-86},{"s":"s12","f":1.871,"d":-40},{"s":"s12","f":1.901,"d":-80},{"s":"s12","f":1.931,"d":-42},{"s":"s12","f":1.961,"d":-74},{"s":"s12","f":1.991,"d":-44},

{"s":"s13","f":0.00,"d":-74},{"s":"s13","f":0.02,"d":-98},{"s":"s13","f":0.04,"d":-70},{"s":"s13","f":0.06,"d":-92},{"s":"s13","f":0.08,"d":-66},{"s":"s13","f":0.10,"d":-90},{"s":"s13","f":0.12,"d":-63},{"s":"s13","f":0.14,"d":-78},{"s":"s13","f":0.16,"d":-61},{"s":"s13","f":0.18,"d":-77},
{"s":"s13","f":0.20,"d":-60},{"s":"s13","f":0.22,"d":-80},{"s":"s13","f":0.24,"d":-60},{"s":"s13","f":0.26,"d":-78},{"s":"s13","f":0.28,"d":-59},{"s":"s13","f":0.30,"d":-82},{"s":"s13","f":0.32,"d":-60},{"s":"s13","f":0.34,"d":-79},{"s":"s13","f":0.36,"d":-59},{"s":"s13","f":0.38,"d":-84},
{"s":"s13","f":0.40,"d":-60},{"s":"s13","f":0.42,"d":-90},{"s":"s13","f":0.44,"d":-66},{"s":"s13","f":0.46,"d":-95},{"s":"s13","f":0.48,"d":-68},{"s":"s13","f":0.50,"d":-100},{"s":"s13","f":0.52,"d":-66},{"s":"s13","f":0.54,"d":-92},{"s":"s13","f":0.56,"d":-64},{"s":"s13","f":0.58,"d":-98},
{"s":"s13","f":0.60,"d":-63},{"s":"s13","f":0.62,"d":-90},{"s":"s13","f":0.64,"d":-61},{"s":"s13","f":0.66,"d":-95},{"s":"s13","f":0.68,"d":-62},{"s":"s13","f":0.70,"d":-88},{"s":"s13","f":0.72,"d":-60},{"s":"s13","f":0.74,"d":-85},{"s":"s13","f":0.76,"d":-58},{"s":"s13","f":0.78,"d":-68},
{"s":"s13","f":0.80,"d":-45},{"s":"s13","f":0.82,"d":-66},{"s":"s13","f":0.84,"d":-44},{"s":"s13","f":0.86,"d":-70},{"s":"s13","f":0.88,"d":-46},{"s":"s13","f":0.90,"d":-72},{"s":"s13","f":0.92,"d":-47},{"s":"s13","f":0.94,"d":-80},{"s":"s13","f":0.96,"d":-44},{"s":"s13","f":0.98,"d":-70},
{"s":"s13","f":1.00,"d":-47},{"s":"s13","f":1.02,"d":-75},{"s":"s13","f":1.04,"d":-50},{"s":"s13","f":1.06,"d":-72},{"s":"s13","f":1.08,"d":-52},{"s":"s13","f":1.10,"d":-78},{"s":"s13","f":1.12,"d":-50},{"s":"s13","f":1.14,"d":-74},{"s":"s13","f":1.16,"d":-49},{"s":"s13","f":1.18,"d":-76},
{"s":"s13","f":1.20,"d":-48},{"s":"s13","f":1.22,"d":-78},{"s":"s13","f":1.24,"d":-48},{"s":"s13","f":1.26,"d":-72},{"s":"s13","f":1.28,"d":-49},{"s":"s13","f":1.30,"d":-80},{"s":"s13","f":1.32,"d":-48},{"s":"s13","f":1.34,"d":-70},{"s":"s13","f":1.36,"d":-50},{"s":"s13","f":1.38,"d":-74},
{"s":"s13","f":1.40,"d":-49},{"s":"s13","f":1.42,"d":-78},{"s":"s13","f":1.44,"d":-50},{"s":"s13","f":1.46,"d":-72},{"s":"s13","f":1.48,"d":-48},{"s":"s13","f":1.50,"d":-76},{"s":"s13","f":1.52,"d":-49},{"s":"s13","f":1.54,"d":-70},{"s":"s13","f":1.56,"d":-51},{"s":"s13","f":1.58,"d":-74},
{"s":"s13","f":1.60,"d":-50},{"s":"s13","f":1.62,"d":-78},{"s":"s13","f":1.64,"d":-49},{"s":"s13","f":1.66,"d":-72},{"s":"s13","f":1.68,"d":-50},{"s":"s13","f":1.70,"d":-75},{"s":"s13","f":1.72,"d":-49},{"s":"s13","f":1.74,"d":-70},{"s":"s13","f":1.76,"d":-50},{"s":"s13","f":1.78,"d":-78},
{"s":"s13","f":1.80,"d":-48},{"s":"s13","f":1.82,"d":-72},{"s":"s13","f":1.84,"d":-49},{"s":"s13","f":1.86,"d":-80},{"s":"s13","f":1.88,"d":-47},{"s":"s13","f":1.90,"d":-74},{"s":"s13","f":1.92,"d":-46},{"s":"s13","f":1.94,"d":-76},{"s":"s13","f":1.96,"d":-47},{"s":"s13","f":1.98,"d":-70},{"s":"s13","f":2.00,"d":-45},

{"s":"s14","f":0.01,"d":-82},{"s":"s14","f":0.03,"d":-95},{"s":"s14","f":0.05,"d":-72},{"s":"s14","f":0.07,"d":-88},{"s":"s14","f":0.09,"d":-66},{"s":"s14","f":0.11,"d":-76},{"s":"s14","f":0.13,"d":-64},{"s":"s14","f":0.15,"d":-75},{"s":"s14","f":0.17,"d":-63},{"s":"s14","f":0.19,"d":-76},
{"s":"s14","f":0.21,"d":-62},{"s":"s14","f":0.23,"d":-69},{"s":"s14","f":0.25,"d":-62},{"s":"s14","f":0.27,"d":-72},{"s":"s14","f":0.29,"d":-63},{"s":"s14","f":0.31,"d":-73},{"s":"s14","f":0.33,"d":-62},{"s":"s14","f":0.35,"d":-72},{"s":"s14","f":0.37,"d":-64},{"s":"s14","f":0.39,"d":-71},
{"s":"s14","f":0.41,"d":-63},{"s":"s14","f":0.43,"d":-70},{"s":"s14","f":0.45,"d":-64},{"s":"s14","f":0.47,"d":-80},{"s":"s14","f":0.49,"d":-65},{"s":"s14","f":0.51,"d":-88},{"s":"s14","f":0.53,"d":-63},{"s":"s14","f":0.55,"d":-95},{"s":"s14","f":0.57,"d":-62},{"s":"s14","f":0.59,"d":-85},
{"s":"s14","f":0.61,"d":-60},{"s":"s14","f":0.63,"d":-78},{"s":"s14","f":0.65,"d":-57},{"s":"s14","f":0.67,"d":-75},{"s":"s14","f":0.69,"d":-58},{"s":"s14","f":0.71,"d":-72},{"s":"s14","f":0.73,"d":-57},{"s":"s14","f":0.75,"d":-70},{"s":"s14","f":0.77,"d":-56},{"s":"s14","f":0.79,"d":-62},
{"s":"s14","f":0.81,"d":-41},{"s":"s14","f":0.83,"d":-60},{"s":"s14","f":0.85,"d":-42},{"s":"s14","f":0.87,"d":-58},{"s":"s14","f":0.89,"d":-43},{"s":"s14","f":0.91,"d":-62},{"s":"s14","f":0.93,"d":-45},{"s":"s14","f":0.95,"d":-65},{"s":"s14","f":0.97,"d":-43},{"s":"s14","f":0.99,"d":-60},
{"s":"s14","f":1.01,"d":-44},{"s":"s14","f":1.03,"d":-65},{"s":"s14","f":1.05,"d":-46},{"s":"s14","f":1.07,"d":-70},{"s":"s14","f":1.09,"d":-49},{"s":"s14","f":1.11,"d":-68},{"s":"s14","f":1.13,"d":-48},{"s":"s14","f":1.15,"d":-72},{"s":"s14","f":1.17,"d":-47},{"s":"s14","f":1.19,"d":-66},
{"s":"s14","f":1.21,"d":-46},{"s":"s14","f":1.23,"d":-70},{"s":"s14","f":1.25,"d":-45},{"s":"s14","f":1.27,"d":-68},{"s":"s14","f":1.29,"d":-45},{"s":"s14","f":1.31,"d":-74},{"s":"s14","f":1.33,"d":-46},{"s":"s14","f":1.35,"d":-66},{"s":"s14","f":1.37,"d":-47},{"s":"s14","f":1.39,"d":-70},
{"s":"s14","f":1.41,"d":-47},{"s":"s14","f":1.43,"d":-68},{"s":"s14","f":1.45,"d":-46},{"s":"s14","f":1.47,"d":-72},{"s":"s14","f":1.49,"d":-48},{"s":"s14","f":1.51,"d":-70},{"s":"s14","f":1.53,"d":-47},{"s":"s14","f":1.55,"d":-66},{"s":"s14","f":1.57,"d":-48},{"s":"s14","f":1.59,"d":-72},
{"s":"s14","f":1.61,"d":-47},{"s":"s14","f":1.63,"d":-70},{"s":"s14","f":1.65,"d":-46},{"s":"s14","f":1.67,"d":-74},{"s":"s14","f":1.69,"d":-46},{"s":"s14","f":1.71,"d":-68},{"s":"s14","f":1.73,"d":-45},{"s":"s14","f":1.75,"d":-72},{"s":"s14","f":1.77,"d":-44},{"s":"s14","f":1.79,"d":-70},
{"s":"s14","f":1.81,"d":-43},{"s":"s14","f":1.83,"d":-72},{"s":"s14","f":1.85,"d":-41},{"s":"s14","f":1.87,"d":-78},{"s":"s14","f":1.89,"d":-40},{"s":"s14","f":1.91,"d":-70},{"s":"s14","f":1.93,"d":-42},{"s":"s14","f":1.95,"d":-66},{"s":"s14","f":1.97,"d":-43},{"s":"s14","f":1.99,"d":-62},

{"s":"s15","f":0.000,"d":-73},{"s":"s15","f":0.010,"d":-70},{"s":"s15","f":0.020,"d":-68},{"s":"s15","f":0.030,"d":-66.5},{"s":"s15","f":0.040,"d":-65.5},{"s":"s15","f":0.060,"d":-64},{"s":"s15","f":0.080,"d":-62.5},{"s":"s15","f":0.100,"d":-61},{"s":"s15","f":0.120,"d":-60},{"s":"s15","f":0.140,"d":-59},
{"s":"s15","f":0.160,"d":-58},{"s":"s15","f":0.180,"d":-57.5},{"s":"s15","f":0.200,"d":-56.5},{"s":"s15","f":0.220,"d":-56},{"s":"s15","f":0.240,"d":-55.5},{"s":"s15","f":0.260,"d":-55},{"s":"s15","f":0.280,"d":-54.5},{"s":"s15","f":0.300,"d":-54.3},{"s":"s15","f":0.320,"d":-54},{"s":"s15","f":0.340,"d":-53.5},
{"s":"s15","f":0.360,"d":-53.2},{"s":"s15","f":0.380,"d":-53},{"s":"s15","f":0.400,"d":-53.5},{"s":"s15","f":0.420,"d":-53},{"s":"s15","f":0.440,"d":-53.2},{"s":"s15","f":0.460,"d":-52.5},{"s":"s15","f":0.480,"d":-52},{"s":"s15","f":0.500,"d":-51.5},{"s":"s15","f":0.520,"d":-51.2},{"s":"s15","f":0.540,"d":-51},
{"s":"s15","f":0.560,"d":-51.3},{"s":"s15","f":0.580,"d":-51},{"s":"s15","f":0.600,"d":-51.4},{"s":"s15","f":0.620,"d":-51},{"s":"s15","f":0.640,"d":-51.2},{"s":"s15","f":0.660,"d":-50.5},{"s":"s15","f":0.680,"d":-51},{"s":"s15","f":0.700,"d":-52},{"s":"s15","f":0.720,"d":-54},{"s":"s15","f":0.730,"d":-53},
{"s":"s15","f":0.740,"d":-52.5},{"s":"s15","f":0.760,"d":-52},{"s":"s15","f":0.780,"d":-50},{"s":"s15","f":0.790,"d":-47},{"s":"s15","f":0.800,"d":-44},{"s":"s15","f":0.820,"d":-42},{"s":"s15","f":0.840,"d":-40.5},{"s":"s15","f":0.860,"d":-39.5},{"s":"s15","f":0.870,"d":-40.5},{"s":"s15","f":0.880,"d":-42},
{"s":"s15","f":0.900,"d":-45},{"s":"s15","f":0.920,"d":-47},{"s":"s15","f":0.940,"d":-47},{"s":"s15","f":0.960,"d":-45},{"s":"s15","f":0.970,"d":-38.5},{"s":"s15","f":0.980,"d":-41},{"s":"s15","f":1.000,"d":-42},{"s":"s15","f":1.020,"d":-44},{"s":"s15","f":1.040,"d":-45.5},{"s":"s15","f":1.060,"d":-46.5},
{"s":"s15","f":1.080,"d":-47.5},{"s":"s15","f":1.100,"d":-49},{"s":"s15","f":1.120,"d":-50.5},{"s":"s15","f":1.140,"d":-49},{"s":"s15","f":1.160,"d":-47.5},{"s":"s15","f":1.180,"d":-47},{"s":"s15","f":1.200,"d":-46.5},{"s":"s15","f":1.220,"d":-46},{"s":"s15","f":1.240,"d":-45.5},{"s":"s15","f":1.260,"d":-45.5},
{"s":"s15","f":1.280,"d":-45},{"s":"s15","f":1.300,"d":-45.5},{"s":"s15","f":1.320,"d":-45},{"s":"s15","f":1.340,"d":-45.5},{"s":"s15","f":1.360,"d":-46},{"s":"s15","f":1.380,"d":-45.5},{"s":"s15","f":1.400,"d":-45.5},{"s":"s15","f":1.420,"d":-45},{"s":"s15","f":1.440,"d":-45},{"s":"s15","f":1.460,"d":-44.5},
{"s":"s15","f":1.480,"d":-44.5},{"s":"s15","f":1.500,"d":-44},{"s":"s15","f":1.520,"d":-44},{"s":"s15","f":1.540,"d":-44.5},{"s":"s15","f":1.560,"d":-44.5},{"s":"s15","f":1.580,"d":-45},{"s":"s15","f":1.600,"d":-45.5},{"s":"s15","f":1.620,"d":-45},{"s":"s15","f":1.640,"d":-45.5},{"s":"s15","f":1.660,"d":-45},
{"s":"s15","f":1.680,"d":-44.5},{"s":"s15","f":1.700,"d":-44},{"s":"s15","f":1.720,"d":-43.5},{"s":"s15","f":1.740,"d":-43},{"s":"s15","f":1.760,"d":-42.5},{"s":"s15","f":1.780,"d":-42},{"s":"s15","f":1.800,"d":-42},{"s":"s15","f":1.820,"d":-41.5},{"s":"s15","f":1.840,"d":-41},{"s":"s15","f":1.860,"d":-41},
{"s":"s15","f":1.880,"d":-42},{"s":"s15","f":1.900,"d":-43},{"s":"s15","f":1.920,"d":-43.5},{"s":"s15","f":1.940,"d":-44},{"s":"s15","f":1.960,"d":-45},{"s":"s15","f":1.980,"d":-45},{"s":"s15","f":2.000,"d":-44},

{"s":"s16","f":0.000,"d":-74},{"s":"s16","f":0.010,"d":-71},{"s":"s16","f":0.020,"d":-68.5},{"s":"s16","f":0.030,"d":-66.5},{"s":"s16","f":0.040,"d":-65},{"s":"s16","f":0.060,"d":-63.5},{"s":"s16","f":0.080,"d":-62},{"s":"s16","f":0.100,"d":-61},{"s":"s16","f":0.120,"d":-59.5},{"s":"s16","f":0.140,"d":-58.5},
{"s":"s16","f":0.160,"d":-57.8},{"s":"s16","f":0.180,"d":-57},{"s":"s16","f":0.200,"d":-56.5},{"s":"s16","f":0.220,"d":-55.5},{"s":"s16","f":0.240,"d":-55},{"s":"s16","f":0.260,"d":-54.5},{"s":"s16","f":0.280,"d":-54.2},{"s":"s16","f":0.300,"d":-54},{"s":"s16","f":0.320,"d":-53.5},{"s":"s16","f":0.340,"d":-53},
{"s":"s16","f":0.360,"d":-53.3},{"s":"s16","f":0.380,"d":-53.5},{"s":"s16","f":0.400,"d":-54.2},{"s":"s16","f":0.420,"d":-54.5},{"s":"s16","f":0.440,"d":-54.5},{"s":"s16","f":0.460,"d":-53.2},{"s":"s16","f":0.480,"d":-52.5},{"s":"s16","f":0.500,"d":-52},{"s":"s16","f":0.520,"d":-51.5},{"s":"s16","f":0.540,"d":-51},
{"s":"s16","f":0.560,"d":-50.5},{"s":"s16","f":0.580,"d":-50.8},{"s":"s16","f":0.600,"d":-51},{"s":"s16","f":0.620,"d":-50.8},{"s":"s16","f":0.640,"d":-50.5},{"s":"s16","f":0.660,"d":-50.8},{"s":"s16","f":0.680,"d":-50},{"s":"s16","f":0.700,"d":-51},{"s":"s16","f":0.720,"d":-52},{"s":"s16","f":0.740,"d":-53},
{"s":"s16","f":0.760,"d":-52.5},{"s":"s16","f":0.780,"d":-50},{"s":"s16","f":0.790,"d":-46},{"s":"s16","f":0.800,"d":-43},{"s":"s16","f":0.820,"d":-41},{"s":"s16","f":0.840,"d":-39.5},{"s":"s16","f":0.860,"d":-39},{"s":"s16","f":0.870,"d":-39.5},{"s":"s16","f":0.880,"d":-41},{"s":"s16","f":0.900,"d":-43.5},
{"s":"s16","f":0.920,"d":-45.5},{"s":"s16","f":0.940,"d":-46},{"s":"s16","f":0.960,"d":-44},{"s":"s16","f":0.975,"d":-40.5},{"s":"s16","f":0.990,"d":-41},{"s":"s16","f":1.000,"d":-41.5},{"s":"s16","f":1.020,"d":-43},{"s":"s16","f":1.040,"d":-44},{"s":"s16","f":1.060,"d":-45},{"s":"s16","f":1.080,"d":-45.5},
{"s":"s16","f":1.090,"d":-44},{"s":"s16","f":1.100,"d":-47},{"s":"s16","f":1.120,"d":-49.5},{"s":"s16","f":1.140,"d":-48.5},{"s":"s16","f":1.160,"d":-47},{"s":"s16","f":1.180,"d":-46.5},{"s":"s16","f":1.200,"d":-46},{"s":"s16","f":1.220,"d":-46},{"s":"s16","f":1.240,"d":-45.5},{"s":"s16","f":1.260,"d":-45},
{"s":"s16","f":1.280,"d":-44.5},{"s":"s16","f":1.300,"d":-44.5},{"s":"s16","f":1.320,"d":-45},{"s":"s16","f":1.340,"d":-45.5},{"s":"s16","f":1.360,"d":-46},{"s":"s16","f":1.380,"d":-46.5},{"s":"s16","f":1.400,"d":-47},{"s":"s16","f":1.420,"d":-46.5},{"s":"s16","f":1.440,"d":-46},{"s":"s16","f":1.460,"d":-45.5},
{"s":"s16","f":1.480,"d":-45},{"s":"s16","f":1.500,"d":-44.5},{"s":"s16","f":1.520,"d":-44},{"s":"s16","f":1.540,"d":-44},{"s":"s16","f":1.560,"d":-43.5},{"s":"s16","f":1.580,"d":-43},{"s":"s16","f":1.600,"d":-42.5},{"s":"s16","f":1.620,"d":-42.8},{"s":"s16","f":1.640,"d":-42.5},{"s":"s16","f":1.660,"d":-42.8},
{"s":"s16","f":1.680,"d":-43},{"s":"s16","f":1.700,"d":-42.5},{"s":"s16","f":1.720,"d":-42.8},{"s":"s16","f":1.740,"d":-43},{"s":"s16","f":1.760,"d":-43.5},{"s":"s16","f":1.780,"d":-43.5},{"s":"s16","f":1.800,"d":-43},{"s":"s16","f":1.820,"d":-42.5},{"s":"s16","f":1.840,"d":-42},{"s":"s16","f":1.860,"d":-42.5},
{"s":"s16","f":1.880,"d":-43},{"s":"s16","f":1.900,"d":-43},{"s":"s16","f":1.920,"d":-43.5},{"s":"s16","f":1.940,"d":-44},{"s":"s16","f":1.960,"d":-44},{"s":"s16","f":1.980,"d":-44.5},{"s":"s16","f":2.000,"d":-45}
],
"bump": [
{"s":"s17","f":1.32,"d":-46.5},{"s":"s17","f":1.33,"d":-45},{"s":"s17","f":1.34,"d":-45.5},{"s":"s17","f":1.35,"d":-43.5},{"s":"s17","f":1.36,"d":-44},{"s":"s17","f":1.37,"d":-42.5},{"s":"s17","f":1.38,"d":-42.5},{"s":"s17","f":1.39,"d":-41},{"s":"s17","f":1.40,"d":-41},
{"s":"s17","f":1.41,"d":-39.5},{"s":"s17","f":1.42,"d":-41},{"s":"s17","f":1.43,"d":-41.5},{"s":"s17","f":1.44,"d":-43.5},{"s":"s17","f":1.45,"d":-43},{"s":"s17","f":1.46,"d":-45},{"s":"s17","f":1.47,"d":-44.5},{"s":"s17","f":1.48,"d":-46.5}
]
},
"resolve": {"axis": {"x": "independent"}},
"layer": [
{
"data": {"name": "noise"},
"mark": {"type": "line", "strokeWidth": 2, "clip": true},
"encoding": {
"x": {"field": "f", "type": "quantitative", "scale": {"domain": [0, 2], "nice": false, "zero": false},
"axis": {"orient": "bottom", "values": [0, 0.5, 1, 1.5, 2], "labelExpr": "'' + datum.value", "labelFontSize": 39, "labelColor": "#262626", "labelBaseline": "alphabetic", "labelPadding": 73, "labelFlush": false, "labelOverlap": false,
"tickSize": -13, "tickColor": "#262626", "tickWidth": 1.5, "domainColor": "#262626", "domainWidth": 1.5,
"grid": true, "gridColor": "#262626", "gridOpacity": 0.15, "gridWidth": 1.5,
"title": "Frequency, Hz", "titleFontSize": 44, "titleFontWeight": "normal", "titleColor": "#262626", "titleX": 646, "titleY": 116, "titleBaseline": "alphabetic", "titleAlign": "center", "titleAnchor": null}},
"y": {"field": "d", "type": "quantitative", "scale": {"domain": [-130, -30], "nice": false, "zero": false},
"axis": {"values": [-130, -120, -110, -100, -90, -80, -70, -60, -50, -40, -30], "labelExpr": "'' + datum.value", "labelFontSize": 39, "labelColor": "#262626", "labelBaseline": "alphabetic", "labelOffset": 15, "labelPadding": 33, "labelFlush": false, "labelOverlap": false,
"tickSize": -13, "tickColor": "#262626", "tickWidth": 1.5, "domainColor": "#262626", "domainWidth": 1.5,
"grid": true, "gridColor": "#262626", "gridOpacity": 0.15, "gridWidth": 1.5,
"title": "Diff Crosstalk, dB", "titleFontSize": 44, "titleFontWeight": "normal", "titleColor": "#262626", "titleAngle": -90, "titleX": -124, "titleY": 511, "titleBaseline": "alphabetic", "titleAlign": "center", "titleAnchor": null}},
"color": {"field": "s", "type": "nominal", "legend": null,
"scale": {"domain": ["s01","s02","s03","s04","s05","s06","s07","s08","s09","s10","s11","s12","s13","s14","s15","s16"],
"range": ["#7E2F8E","#77AC30","#EDB120","#D95319","#0072BD","#4DBEEE","#7E2F8E","#77AC30","#D95319","#0072BD","#4DBEEE","#A2142F","#EDB120","#A2142F","#0072BD","#D95319"]}}
}
},
{
"data": {"name": "bump"},
"mark": {"type": "line", "strokeWidth": 1.8, "color": "#77AC30", "clip": true},
"encoding": {
"x": {"field": "f", "type": "quantitative",
"axis": {"orient": "top", "labels": false, "ticks": false, "domain": false, "grid": false,
"title": "×10¹⁰", "titleFontSize": 40, "titleFontWeight": "normal", "titleColor": "#262626", "titleX": 1292, "titleY": 1142, "titleBaseline": "alphabetic", "titleAlign": "right", "titleAnchor": null}},
"y": {"field": "d", "type": "quantitative"}
}
}
]
}
